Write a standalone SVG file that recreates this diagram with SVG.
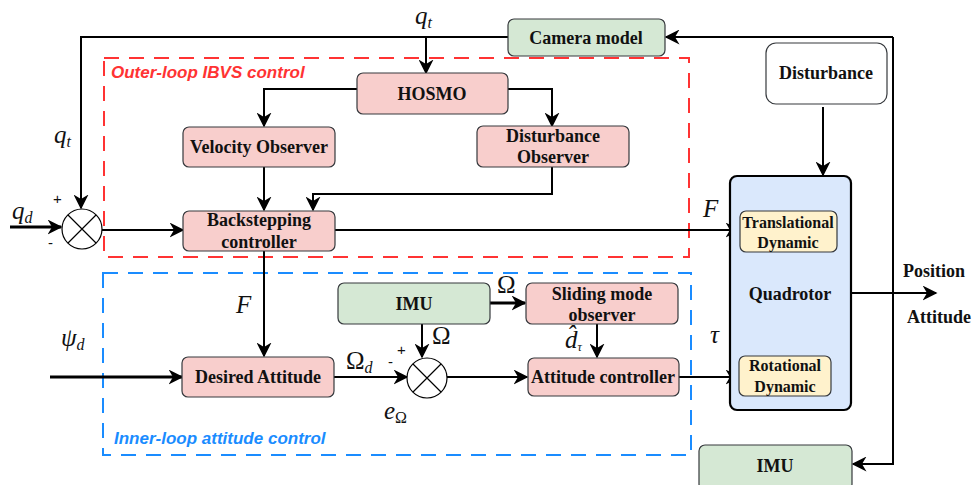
<svg xmlns="http://www.w3.org/2000/svg" width="973" height="485" viewBox="0 0 973 485">
  <defs>
    <marker id="arrL" viewBox="0 0 10 10" refX="9" refY="5" markerWidth="15" markerHeight="15" markerUnits="userSpaceOnUse" orient="auto">
      <path d="M0,0 L10,5 L0,10 L3,5 Z" fill="#000"/>
    </marker>
  </defs>
  <style>
    .box { stroke: #36393d; stroke-width: 1.2; }
    .red { fill: #f8cecc; }
    .green { fill: #d5e8d4; }
    .yellow { fill: #fff2cc; }
    .lbl { font-family: "Liberation Serif", serif; font-weight: bold; font-size: 18px; fill: #111; text-anchor: middle; }
    .sm { font-size: 16px; }
    .out { font-size: 18px; }
    .math { font-family: "Liberation Serif", serif; font-style: italic; font-size: 25px; fill: #111; }
    .up { font-style: normal; }
    .sign { font-family: "Liberation Sans", sans-serif; font-size: 15px; fill: #111; }
    .conn { fill: none; stroke: #000; stroke-width: 2; marker-end: url(#arrL); }
    .plain { fill: none; stroke: #000; stroke-width: 2; }
    .title { font-family: "Liberation Sans", sans-serif; font-style: italic; font-weight: bold; font-size: 17px; }
  </style>
  <rect width="973" height="485" fill="#fff"/>

  <!-- control loop frames -->
  <g id="outer-loop">
    <rect x="104" y="58" width="585" height="199" fill="none" stroke="#ff3333" stroke-width="2" stroke-dasharray="15,10"/>
    <text x="111" y="78" class="title" fill="#ff3333">Outer-loop IBVS control</text>
  </g>
  <g id="inner-loop">
    <rect x="103" y="273" width="588" height="182" fill="none" stroke="#1a8cff" stroke-width="2" stroke-dasharray="15,10"/>
    <text x="114" y="444" class="title" fill="#1a8cff">Inner-loop attitude control</text>
  </g>

  <!-- connectors -->
  <g id="connectors">
    <!-- q_t feedback from camera model -->
    <path class="plain" d="M508,37 L81,37 L81,60"/>
    <path class="conn" d="M81,60 L81,208"/>
    <path class="conn" d="M426,37 L426,73"/>
    <!-- HOSMO outputs -->
    <path class="conn" d="M357,89 L264,89 L264,126"/>
    <path class="conn" d="M508,89 L552,89 L552,126"/>
    <!-- observers to backstepping -->
    <path class="conn" d="M264,167 L264,210"/>
    <path class="conn" d="M552,167 L552,194 L313,194 L313,210"/>
    <!-- q_d input -->
    <path d="M10,227 L61,227" fill="none" stroke="#000" stroke-width="3" marker-end="url(#arrL)"/>
    <!-- error to backstepping -->
    <path class="conn" d="M102,230 L183,230"/>
    <!-- force to translational dynamic -->
    <path class="conn" d="M335,230 L739,230"/>
    <!-- F to desired attitude -->
    <path class="conn" d="M264,251 L264,356"/>
    <!-- psi_d input -->
    <path d="M50,377 L182,377" fill="none" stroke="#000" stroke-width="3" marker-end="url(#arrL)"/>
    <!-- Omega_d to summing junction -->
    <path class="conn" d="M334,377 L407,377"/>
    <!-- IMU Omega to summing junction -->
    <path class="conn" d="M422,324 L422,357"/>
    <!-- IMU Omega to sliding mode observer -->
    <path d="M490,303 L525,303" fill="none" stroke="#000" stroke-width="3" marker-end="url(#arrL)"/>
    <!-- disturbance estimate -->
    <path class="conn" d="M597,324 L597,357"/>
    <!-- error to attitude controller -->
    <path class="conn" d="M447,377 L527,377"/>
    <!-- torque to rotational dynamic -->
    <path class="conn" d="M679,377 L739,377"/>
    <!-- disturbance to quadrotor -->
    <path class="conn" d="M823,107 L823,175"/>
    <!-- quadrotor output -->
    <path class="conn" d="M851,293 L936,293"/>
    <!-- state feedback to camera and IMU -->
    <path class="plain" d="M893,293 L893,37"/>
    <path class="conn" d="M893,37 L666,37"/>
    <path class="conn" d="M893,293 L893,464 L853,464"/>
  </g>

  <!-- nodes -->
  <g id="camera-model">
    <rect x="508" y="19" width="157" height="37" rx="6" class="box green"/>
    <text x="586" y="44" class="lbl">Camera model</text>
  </g>
  <g id="hosmo">
    <rect x="357" y="73" width="151" height="41" rx="6" class="box red"/>
    <text x="432" y="100" class="lbl">HOSMO</text>
  </g>
  <g id="velocity-observer">
    <rect x="183" y="127" width="152" height="40" rx="6" class="box red"/>
    <text x="259" y="153" class="lbl">Velocity Observer</text>
  </g>
  <g id="disturbance-observer">
    <rect x="477" y="126" width="152" height="41" rx="6" class="box red"/>
    <text x="553" y="142" class="lbl">Disturbance</text>
    <text x="553" y="163" class="lbl">Observer</text>
  </g>
  <g id="backstepping">
    <rect x="183" y="211" width="152" height="40" rx="6" class="box red"/>
    <text x="259" y="226" class="lbl">Backstepping</text>
    <text x="259" y="248" class="lbl">controller</text>
  </g>
  <g id="sum-outer">
    <circle cx="82" cy="229" r="20" fill="#fff" stroke="#000" stroke-width="1.2"/>
    <path d="M68,215 L96,243 M96,215 L68,243" stroke="#000" stroke-width="1.2"/>
    <text x="53" y="204" class="sign">+</text>
    <text x="48" y="248" class="sign" font-size="18">-</text>
  </g>
  <g id="disturbance">
    <rect x="766" y="43" width="121" height="61" rx="10" fill="#fff" class="box"/>
    <text x="826" y="79" class="lbl">Disturbance</text>
  </g>
  <g id="quadrotor">
    <rect x="730" y="176" width="121" height="234" rx="7" fill="#dae8fc" stroke="#000" stroke-width="2.2"/>
    <text x="790" y="300" class="lbl">Quadrotor</text>
  </g>
  <g id="translational-dynamic">
    <rect x="740" y="211" width="97" height="41" rx="6" class="box yellow"/>
    <text x="788" y="228" class="lbl sm">Translational</text>
    <text x="788" y="248" class="lbl sm">Dynamic</text>
  </g>
  <g id="rotational-dynamic">
    <rect x="739" y="356" width="92" height="40" rx="6" class="box yellow"/>
    <text x="785" y="371" class="lbl sm">Rotational</text>
    <text x="785" y="392" class="lbl sm">Dynamic</text>
  </g>
  <g id="imu-inner">
    <rect x="338" y="283" width="152" height="41" rx="6" class="box green"/>
    <text x="414" y="310" class="lbl">IMU</text>
  </g>
  <g id="sliding-mode-observer">
    <rect x="526" y="283" width="152" height="41" rx="6" class="box red"/>
    <text x="602" y="300" class="lbl">Sliding mode</text>
    <text x="602" y="321" class="lbl">observer</text>
  </g>
  <g id="desired-attitude">
    <rect x="182" y="357" width="152" height="40" rx="6" class="box red"/>
    <text x="258" y="383" class="lbl">Desired Attitude</text>
  </g>
  <g id="sum-inner">
    <circle cx="427" cy="378" r="20" fill="#fff" stroke="#000" stroke-width="1.2"/>
    <path d="M413,364 L441,392 M441,364 L413,392" stroke="#000" stroke-width="1.2"/>
    <text x="397" y="355" class="sign">+</text>
    <text x="388" y="367" class="sign" font-size="18">-</text>
  </g>
  <g id="attitude-controller">
    <rect x="528" y="358" width="151" height="38" rx="6" class="box red"/>
    <text x="603" y="383" class="lbl">Attitude controller</text>
  </g>
  <g id="imu-outer">
    <rect x="699" y="445" width="153" height="45" rx="6" class="box green"/>
    <text x="775" y="472" class="lbl">IMU</text>
  </g>

  <!-- signal labels -->
  <g id="labels">
    <text x="415" y="24" class="math">q<tspan font-size="16" dy="4">t</tspan></text>
    <text x="54" y="143" class="math">q<tspan font-size="16" dy="4">t</tspan></text>
    <text x="12" y="219" class="math">q<tspan font-size="16" dy="4">d</tspan></text>
    <text x="703" y="217" class="math">F</text>
    <text x="236" y="313" class="math">F</text>
    <text x="61" y="346" class="math">ψ<tspan font-size="16" dy="4">d</tspan></text>
    <text x="346" y="369" class="math"><tspan class="up">Ω</tspan><tspan font-size="16" dy="4">d</tspan></text>
    <text x="432" y="344" class="math"><tspan class="up">Ω</tspan></text>
    <text x="497" y="293" class="math"><tspan class="up">Ω</tspan></text>
    <text x="384" y="419" class="math">e<tspan class="up" font-size="16" dy="4">Ω</tspan></text>
    <text x="565" y="348" class="math" font-size="19">d̂<tspan font-size="12" dy="3">τ</tspan></text>
    <text x="710" y="343" class="math">τ</text>
    <text x="934" y="277" class="lbl out">Position</text>
    <text x="939" y="323" class="lbl out">Attitude</text>
  </g>
</svg>
